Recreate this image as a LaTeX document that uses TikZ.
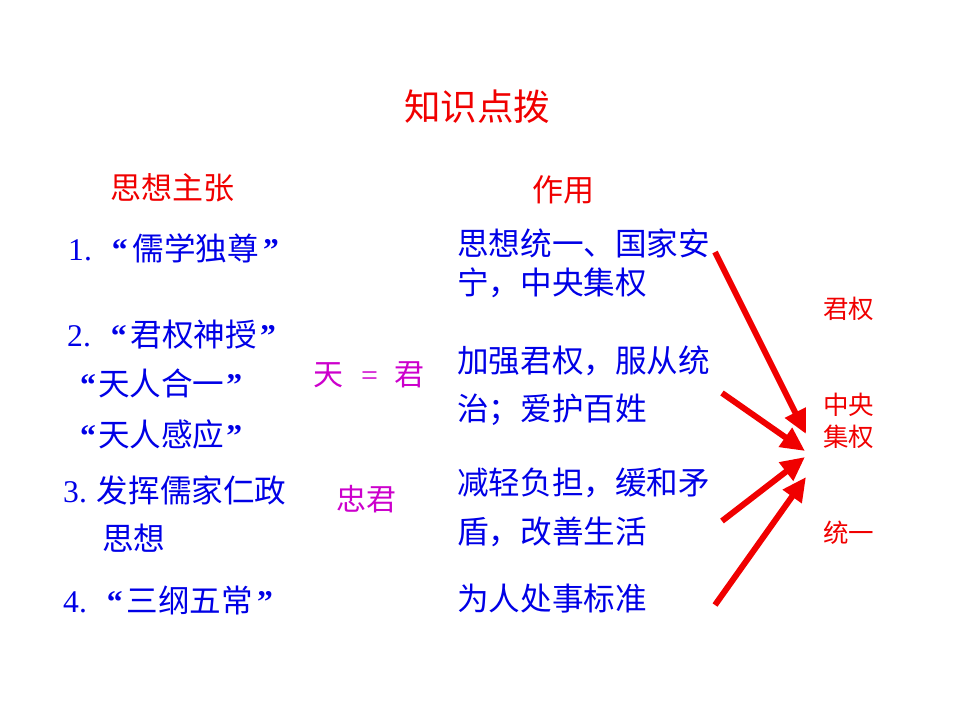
\documentclass[tikz,border=0pt]{standalone}
\usepackage{fontspec}
\setmainfont{Noto Sans CJK SC}
\newfontfamily\latinf{Liberation Serif}
\usetikzlibrary{arrows.meta}
\definecolor{tblue}{RGB}{0,0,230}
\definecolor{tred}{RGB}{240,0,0}
\definecolor{tmag}{RGB}{204,0,204}
\newcommand{\oq}{{\latinf\bfseries “}}
\newcommand{\cq}{{\latinf\bfseries ”}}
\begin{document}
\begin{tikzpicture}[x=1pt,y=-1pt,
  txt/.style={inner sep=0pt, anchor=west, text=tblue, font=\fontsize{31.6}{31.6}\selectfont},
  head/.style={inner sep=0pt, text=tred, font=\fontsize{31}{31}\selectfont},
  side/.style={inner sep=0pt, anchor=west, text=tred, font=\fontsize{25.5}{25.5}\selectfont},
  mid/.style={inner sep=0pt, text=tmag, font=\fontsize{30}{30}\selectfont},
  bigarrow/.style={draw=tred, line width=6pt, -{Triangle[length=24pt,width=22pt]}}]
\useasboundingbox (0,0) rectangle (960,720);
% title and headings
\node[head, font=\fontsize{36.5}{36.5}\selectfont] (title) at (477,107) {知识点拨};
\node[head] (hleft) at (172,188) {思想主张};
\node[head] (hright) at (563,190) {作用};
% left column
\node[txt] (l1) at (68,248) {{\latinf 1.}\hspace{20pt}\oq\hspace{5pt}儒学独尊\hspace{4pt}\cq};
\node[txt] (l2) at (67,335) {{\latinf 2.}\hspace{20pt}\oq\hspace{4pt}君权神授\hspace{3pt}\cq};
\node[txt] (l2b) at (80,383) {\oq\hspace{2pt}天人合一\hspace{2pt}\cq};
\node[txt] (l2c) at (80,434) {\oq\hspace{2pt}天人感应\hspace{2pt}\cq};
\node[txt] (l3) at (63,490) {{\latinf 3.}\hspace{10pt}发挥儒家仁政};
\node[txt] (l3b) at (102,538) {思想};
\node[txt] (l4) at (63,600) {{\latinf 4.}\hspace{20pt}\oq\hspace{4pt}三纲五常\hspace{4pt}\cq};
% middle magenta
\node[mid] (m1) at (369,375) {天\hspace{18pt}{\latinf =}\hspace{17pt}君};
\node[mid] (m2) at (366,499) {忠君};
% right column text
\node[txt] (r1a) at (457,243) {思想统一、国家安};
\node[txt] (r1b) at (457,283) {宁，中央集权};
\node[txt] (r2a) at (457,361) {加强君权，服从统};
\node[txt] (r2b) at (457,410) {治；爱护百姓};
\node[txt] (r3a) at (457,483) {减轻负担，缓和矛};
\node[txt] (r3b) at (457,532) {盾，改善生活};
\node[txt] (r4) at (457,599) {为人处事标准};
% side labels
\node[side] (s1) at (823,309) {君权};
\node[side] (s2) at (823,405) {中央};
\node[side] (s3) at (823,437) {集权};
\node[side] (s4) at (823,533) {统一};
% arrows
\coordinate (a1) at (715,252); \coordinate (t1) at (806,434);
\coordinate (a2) at (722,393); \coordinate (t2) at (805,451);
\coordinate (a3) at (722,521); \coordinate (t3) at (805,457);
\coordinate (a4) at (715,605); \coordinate (t4) at (806,477);
\draw[bigarrow] (a1) -- (t1);
\draw[bigarrow] (a2) -- (t2);
\draw[bigarrow] (a3) -- (t3);
\draw[bigarrow] (a4) -- (t4);
\end{tikzpicture}
\end{document}
